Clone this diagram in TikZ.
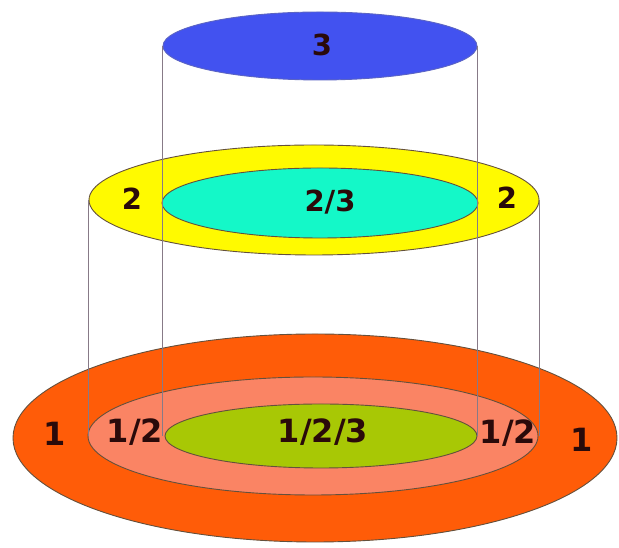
\documentclass[tikz,border=0pt]{standalone}
\usepackage{fontspec}
\setmainfont{DejaVu Sans}
\usetikzlibrary{shapes.geometric}
\definecolor{cblue}{RGB}{66,82,240}
\definecolor{cyellow}{RGB}{255,250,0}
\definecolor{ccyan}{RGB}{20,248,200}
\definecolor{corange}{RGB}{255,92,8}
\definecolor{csalmon}{RGB}{250,132,100}
\definecolor{cgreen}{RGB}{168,200,5}
\definecolor{cedge}{RGB}{100,80,60}
\definecolor{cline}{RGB}{135,122,135}
\definecolor{ctext}{RGB}{42,10,10}
\tikzset{
  disc/.style={ellipse, draw=cedge, line width=0.9pt, inner sep=0pt},
  rim/.style={draw=cline, line width=1.3pt},
  lab/.style={text=ctext, inner sep=0pt, font=\fontsize{29}{29}\selectfont\bfseries},
  biglab/.style={lab, font=\fontsize{32}{32}\selectfont\bfseries}
}
\begin{document}
\begin{tikzpicture}[x=1pt,y=1pt]
\useasboundingbox (0,0) rectangle (619,548);
% bottom layer
\node[disc, fill=corange, minimum width=604, minimum height=208] (orange) at (315,110) {};
\node[disc, fill=csalmon, minimum width=450, minimum height=118] (pink) at (313,112) {};
\node[disc, fill=cgreen, minimum width=312, minimum height=64] (green) at (321,112) {};
% middle layer
\node[disc, fill=cyellow, minimum width=450, minimum height=110] (yellow) at (314,348) {};
\node[disc, fill=ccyan, minimum width=316, minimum height=70] (cyan) at (320,345) {};
% top layer
\node[disc, draw=cblue!60!gray, fill=cblue, minimum width=314, minimum height=68] (blue) at (320,502) {};
% vertical rims
\draw[rim] (blue.west) -- (blue.west |- green.west);
\draw[rim] (blue.east) -- (blue.east |- green.east);
\draw[rim] (yellow.west) -- (yellow.west |- pink.west);
\draw[rim] (yellow.east) -- (yellow.east |- pink.east);
% labels
\node[lab] (l3) at (322,503) {3};
\node[lab] (l2a) at (132,349) {2};
\node[lab] (l2b) at (507,350) {2};
\node[lab] (l23) at (330,346) {2/3};
\node[biglab] (l1a) at (55,114) {1};
\node[biglab] (l1b) at (582,108) {1};
\node[biglab] (l12a) at (135,116) {1/2};
\node[biglab] (l12b) at (508,115) {1/2};
\node[biglab] (l123) at (323,116) {1/2/3};
\end{tikzpicture}
\end{document}
